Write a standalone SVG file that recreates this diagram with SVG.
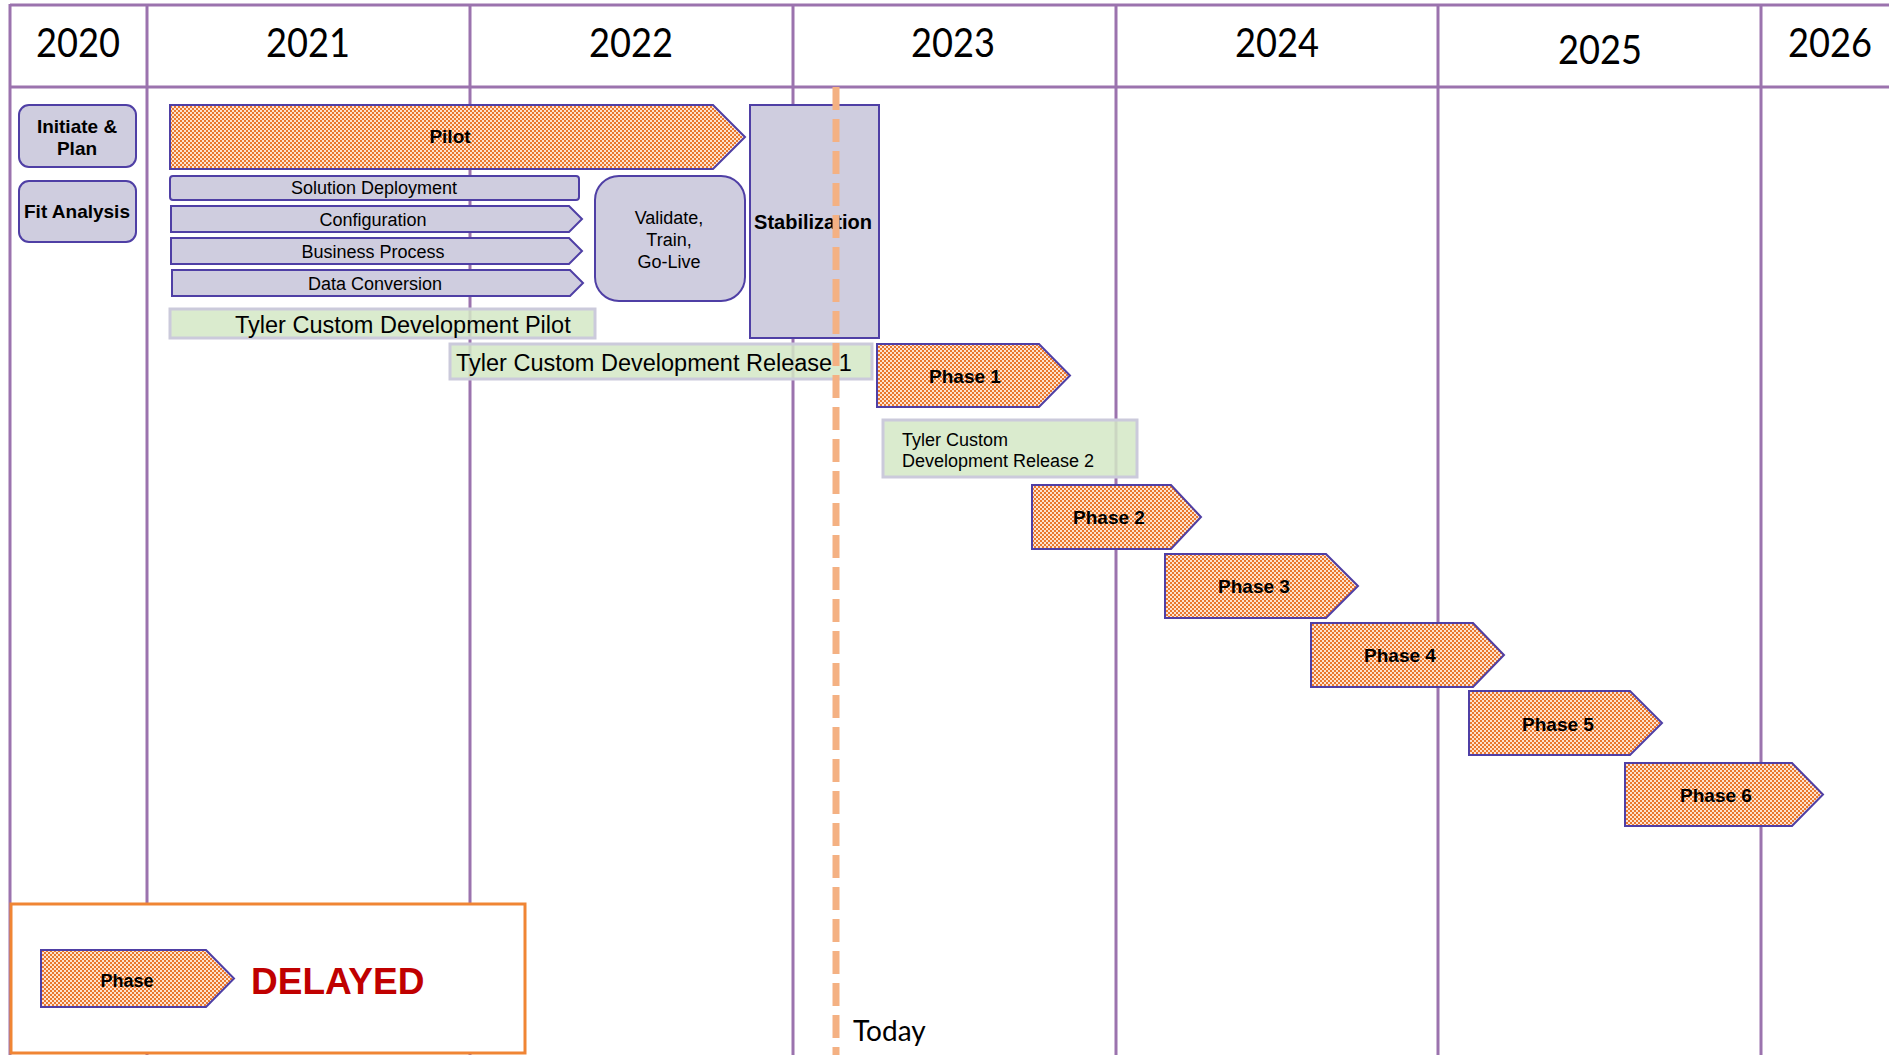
<svg xmlns="http://www.w3.org/2000/svg" width="1889" height="1055" viewBox="0 0 1889 1055">
<style>
.grid{stroke:#9b73ae;stroke-width:3;fill:none}
.year{font-family:Lato,"Liberation Sans",sans-serif;font-size:40px;fill:#000;text-anchor:middle}
.lav{fill:#cfcddf;stroke:#4f3fa5;stroke-width:2}
.ph{fill:url(#chk);stroke:#4f3fa5;stroke-width:2}
.grn{fill:#d3e7c6;fill-opacity:0.85;stroke:#cbcadb;stroke-width:3}
.b{font-family:"Liberation Sans",Arial,sans-serif;font-weight:bold;font-size:19px;fill:#000;text-anchor:middle}
.n{font-family:"Liberation Sans",Arial,sans-serif;font-size:18px;fill:#000;text-anchor:middle}
.g{font-family:"Liberation Sans",Arial,sans-serif;font-size:23.5px;fill:#000}
</style>
<defs>
<pattern id="chk" width="4" height="4" patternUnits="userSpaceOnUse">
<rect width="4" height="4" fill="#fde3cf"/>
<rect width="2" height="2" fill="#e9782e"/>
<rect x="2" y="2" width="2" height="2" fill="#e9782e"/>
</pattern>
</defs>
<rect width="1889" height="1055" fill="#fff"/>
<g id="grid">
<line class="grid" x1="10" y1="5" x2="1889" y2="5"/>
<line class="grid" x1="10" y1="87" x2="1889" y2="87"/>
<line class="grid" x1="10" y1="4" x2="10" y2="1055"/>
<line class="grid" x1="147" y1="4" x2="147" y2="1055"/>
<line class="grid" x1="470" y1="4" x2="470" y2="1055"/>
<line class="grid" x1="793" y1="4" x2="793" y2="1055"/>
<line class="grid" x1="1116" y1="4" x2="1116" y2="1055"/>
<line class="grid" x1="1438" y1="4" x2="1438" y2="1055"/>
<line class="grid" x1="1761" y1="4" x2="1761" y2="1055"/>
<text class="year" x="78" y="57" textLength="84" lengthAdjust="spacingAndGlyphs">2020</text>
<text class="year" x="308" y="57" textLength="84" lengthAdjust="spacingAndGlyphs">2021</text>
<text class="year" x="631" y="57" textLength="84" lengthAdjust="spacingAndGlyphs">2022</text>
<text class="year" x="953" y="57" textLength="84" lengthAdjust="spacingAndGlyphs">2023</text>
<text class="year" x="1277" y="57" textLength="84" lengthAdjust="spacingAndGlyphs">2024</text>
<text class="year" x="1600" y="64" textLength="84" lengthAdjust="spacingAndGlyphs">2025</text>
<text class="year" x="1830" y="57" textLength="84" lengthAdjust="spacingAndGlyphs">2026</text>
</g>
<g id="initiate"><rect class="lav" x="19" y="105" width="117" height="62" rx="10"/><text class="b" x="77" y="133">Initiate &amp;</text><text class="b" x="77" y="155">Plan</text></g>
<g id="fit"><rect class="lav" x="19" y="181" width="117" height="61" rx="10"/><text class="b" x="77" y="218">Fit Analysis</text></g>
<g id="pilot"><polygon class="ph" points="170,105 713,105 745,137 713,169 170,169"/><text class="b" x="450" y="143">Pilot</text></g>
<g id="solution"><rect class="lav" x="170" y="176" width="409" height="24" rx="3"/><text class="n" x="374" y="194">Solution Deployment</text></g>
<g id="config"><polygon class="lav" points="171,206 569,206 582,219 569,232 171,232"/><text class="n" x="373" y="226">Configuration</text></g>
<g id="business"><polygon class="lav" points="171,238 569,238 582,251 569,264 171,264"/><text class="n" x="373" y="258">Business Process</text></g>
<g id="data"><polygon class="lav" points="172,270 570,270 583,283 570,296 172,296"/><text class="n" x="375" y="290">Data Conversion</text></g>
<g id="validate"><rect class="lav" x="595" y="176" width="150" height="125" rx="24"/><text class="n" x="669" y="224">Validate,</text><text class="n" x="669" y="246">Train,</text><text class="n" x="669" y="268">Go-Live</text></g>
<g id="stabilization"><rect class="lav" x="750" y="105" width="129" height="233"/><text class="b" x="813" y="229" style="font-size:20px">Stabilization</text></g>
<g id="tylerpilot"><rect class="grn" x="170" y="309" width="425" height="29"/><text class="g" x="235" y="333">Tyler Custom Development Pilot</text></g>
<g id="tylerr1"><rect class="grn" x="450" y="344" width="422" height="35"/><text class="g" x="456" y="371">Tyler Custom Development Release 1</text></g>
<g id="phase1"><polygon class="ph" points="877,344 1039,344 1070,375.5 1039,407 877,407"/><text class="b" x="965" y="383">Phase 1</text></g>
<g id="tylerr2"><rect class="grn" x="883" y="420" width="254" height="57"/><text class="n" x="902" y="446" style="text-anchor:start">Tyler Custom</text><text class="n" x="902" y="467" style="text-anchor:start">Development Release 2</text></g>
<g id="phase2"><polygon class="ph" points="1032,485 1171,485 1201,517 1171,549 1032,549"/><text class="b" x="1109" y="524">Phase 2</text></g>
<g id="phase3"><polygon class="ph" points="1165,554 1326,554 1358,586 1326,618 1165,618"/><text class="b" x="1254" y="593">Phase 3</text></g>
<g id="phase4"><polygon class="ph" points="1311,623 1473,623 1504,655 1473,687 1311,687"/><text class="b" x="1400" y="662">Phase 4</text></g>
<g id="phase5"><polygon class="ph" points="1469,691 1630,691 1662,723 1630,755 1469,755"/><text class="b" x="1558" y="731">Phase 5</text></g>
<g id="phase6"><polygon class="ph" points="1625,763 1792,763 1823,794.5 1792,826 1625,826"/><text class="b" x="1716" y="802">Phase 6</text></g>
<g id="legend"><rect x="11" y="904" width="514" height="149" fill="#fff" stroke="#f08534" stroke-width="3"/><polygon class="ph" points="41,950 206,950 234,978.5 206,1007 41,1007"/><text class="b" x="127" y="987" style="font-size:18px">Phase</text><text x="251" y="994" style="font-family:'Liberation Sans',Arial,sans-serif;font-weight:bold;font-size:37px;fill:#c00000">DELAYED</text></g>
<g id="connectors"></g>
<g id="today"><line x1="836" y1="87" x2="836" y2="1055" stroke="#f4b183" stroke-width="7" stroke-dasharray="23 9"/><text x="853" y="1041" style="font-family:Lato,'Liberation Sans',sans-serif;font-size:28px;fill:#000">Today</text></g>
</svg>
